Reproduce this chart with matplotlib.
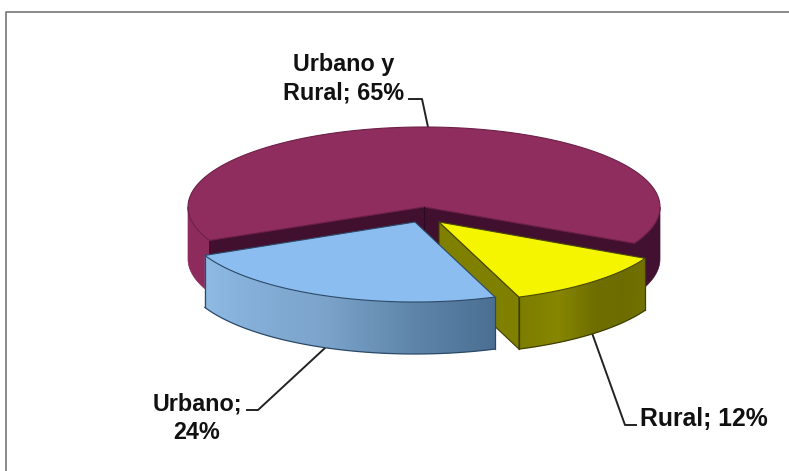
import numpy as np
import matplotlib
matplotlib.use("Agg")
import matplotlib.pyplot as plt
from matplotlib.colors import to_rgb

# slices in counter-clockwise drawing order
categories = ["Urbano y\nRural; 65%", "Urbano;\n24%", "Rural; 12%"]
values = [65, 24, 12]
start_angle = -27.0
CX, CY, RX, RY, DEPTH = 424.0, 207.0, 236.0, 80.0, 52.0
OUT = 0.98   # pulled-out slices look slightly narrower
plt.rcParams['font.family'] = ['Liberation Sans', 'DejaVu Sans']

fig = plt.figure(figsize=(7.89, 4.71), dpi=100, facecolor="white")
ax = fig.add_axes([0, 0, 1, 1])
ax.set_xlim(0, 789)
ax.set_ylim(471, 0)
ax.axis("off")

# slice angles derived from the values
sweeps = 360.0 * np.array(values, float) / sum(values)
ends = start_angle + np.cumsum(sweeps)
starts = ends - sweeps
purple = (starts[0], ends[0])
blue = (starts[1], ends[1])
yellow = (starts[2] - 360, ends[2] - 360)


def pt(ang, cx, cy, k=1.0):
    t = np.radians(ang)
    return cx + k * RX * np.cos(t), cy - RY * np.sin(t)


def top(a, b, cx, cy, face, edge, z, k=1.0, lw=0.8):
    x, y = pt(np.linspace(a, b, 160), cx, cy, k)
    ax.fill(np.r_[cx, x], np.r_[cy, y], facecolor=face, edgecolor=edge, lw=lw, zorder=z)


def wall(a, b, cx, cy, stops, z, edge=None, k=1.0):
    n = 120
    x, y = pt(np.linspace(a, b, n + 1), cx, cy, k)
    if len(stops) == 1:
        ax.fill(np.r_[x, x[::-1]], np.r_[y, y[::-1] + DEPTH],
                facecolor=stops[0], edgecolor=stops[0], lw=0.5, zorder=z)
    else:
        pos = np.linspace(0, 1, len(stops))
        rgb = np.array([to_rgb(c) for c in stops])
        for i in range(n):
            f = (i + 0.5) / n
            c = [np.interp(f, pos, rgb[:, m]) for m in range(3)]
            j = min(i + 2, n)      # overlap neighbours so no seams show
            ax.fill(np.r_[x[i:j + 1], x[i:j + 1][::-1]],
                    np.r_[y[i:j + 1], y[i:j + 1][::-1] + DEPTH],
                    facecolor=c, edgecolor="none", zorder=z)
    if edge:
        ax.plot(x, y + DEPTH, color=edge, lw=0.9, zorder=z + 0.1)
        ax.plot([x[0], x[0]], [y[0], y[0] + DEPTH], color=edge, lw=0.9, zorder=z + 0.1)
        ax.plot([x[-1], x[-1]], [y[-1], y[-1] + DEPTH], color=edge, lw=0.9, zorder=z + 0.1)


def radial(ang, cx, cy, face, z, edge=None, k=1.0):
    x, y = pt(ang, cx, cy, k)
    ax.fill([cx, x, x, cx], [cy, y, y + DEPTH, cy + DEPTH],
            facecolor=face, edgecolor=edge or face, lw=0.8, zorder=z)


# frame
ax.plot([6, 6, 789], [471, 12, 12], color="#808080", lw=1.3, zorder=1)

# purple slice (stays in place)
wall(180, purple[1], CX, CY, ["#8c2b5c"], 2)
wall(purple[0], 0, CX, CY, ["#421131"], 2)
radial(purple[0], CX, CY, "#42102f", 3)
radial(purple[1], CX, CY, "#42102f", 3)
top(purple[0], purple[1], CX, CY, "#8f2d5f", "#6d1f48", 4)
ax.plot([CX, CX], [CY, CY + DEPTH], color="#2a0a20", lw=0.8, zorder=4)

# yellow slice (pulled out)
YX, YY = CX + 15, CY + 15
radial(yellow[0], YX, YY, "#7f7f00", 5, "#3f3f00", OUT)
wall(yellow[0], yellow[1], YX, YY,
     ["#7c7c00", "#868600", "#6f6f00", "#6c6c00", "#727200"], 6, "#3f3f00", OUT)
top(yellow[0], yellow[1], YX, YY, "#f5f500", "#4a4a00", 7, OUT)

# blue slice (pulled out)
BX, BY = CX - 9, CY + 15
wall(blue[0], blue[1], BX, BY,
     ["#8fbbe3", "#84aed8", "#7ba3ca", "#5f85aa", "#4a6f93"], 8, "#2c4a68", OUT)
top(blue[0], blue[1], BX, BY, "#8cbdf0", "#2c4a68", 9, OUT)

# leader lines
lead = dict(color="#222222", lw=1.4, zorder=3)
ax.plot([409, 422, 428], [99, 99, 127], **lead)
ax.plot([592, 625, 636], [333, 425, 425], **lead)
ax.plot([325, 258, 247], [348, 410, 410], **lead)

# labels
txt = dict(fontsize=16.8, fontweight="bold", color="#111111", ha="center", va="center",
           linespacing=1.28, zorder=10)
ax.text(344, 78.5, categories[0], **txt)
ax.text(197, 418.5, categories[1], **txt)
ax.text(703.5, 419, categories[2], **{**txt, "fontsize": 17.8})

fig.savefig("out.png", dpi=100, facecolor="white")
